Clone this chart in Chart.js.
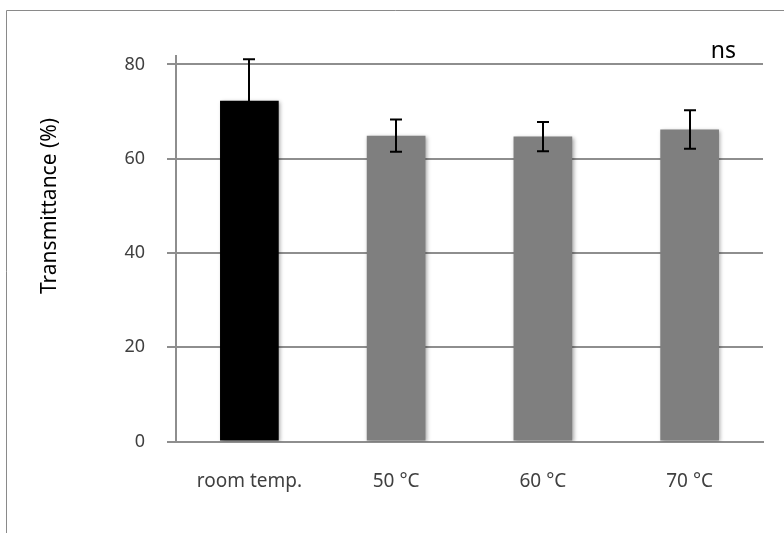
<!DOCTYPE html>
<html>
<head>
<meta charset="utf-8">
<title>Transmittance</title>
<script src="https://cdn.jsdelivr.net/npm/chart.js@4/dist/chart.umd.min.js"></script>
<style>
    html, body { margin: 0; padding: 0; background: #fff; }
    #wrap { position: relative; width: 784px; height: 533px; }
</style>
</head>
<body>
<div id="wrap"><canvas id="chart" width="784" height="533"></canvas></div>
<script>
// ============================================
// Data
// ============================================

const categories = ['room temp.', '50 °C', '60 °C', '70 °C'];
const transmittance = [72.3, 64.9, 64.7, 66.2];
const errors = [8.8, 3.4, 3.1, 4.1];
const barColors = ['#000000', '#7f7f7f', '#7f7f7f', '#7f7f7f'];
const yTicks = [0, 20, 40, 60, 80];
const yTitle = 'Transmittance (%)';
const noteText = 'ns';

const FONT = '"Noto Sans", "Open Sans", sans-serif';

// ============================================
// Plugins
// ============================================

// outer frame (left + top edge of the figure box)
const framePlugin = {
    id: 'frame',
    beforeDraw(chart) {
        const ctx = chart.ctx;
        ctx.save();
        ctx.strokeStyle = '#8a8a8a';
        ctx.lineWidth = 1;
        ctx.beginPath();
        ctx.moveTo(6.5, chart.height);
        ctx.lineTo(6.5, 10.5);
        ctx.lineTo(chart.width, 10.5);
        ctx.stroke();
        ctx.restore();
    }
};

// soft shadow under the bars
const shadowPlugin = {
    id: 'barShadow',
    beforeDatasetsDraw(chart) {
        const ctx = chart.ctx;
        ctx.save();
        ctx.shadowColor = 'rgba(0, 0, 0, 0.35)';
        ctx.shadowBlur = 4;
        ctx.shadowOffsetX = 1.5;
        ctx.shadowOffsetY = 1.5;
    },
    afterDatasetsDraw(chart) {
        chart.ctx.restore();
    }
};

// error bars, axis title and "ns" note
const errorBarPlugin = {
    id: 'errorBars',
    afterDatasetsDraw(chart) {
        const ctx = chart.ctx;
        const yScale = chart.scales.y;
        const meta = chart.getDatasetMeta(0);

        ctx.save();
        ctx.strokeStyle = '#000';
        ctx.lineWidth = 2;
        meta.data.forEach((bar, i) => {
            const v = transmittance[i];
            const e = errors[i];
            const yTop = yScale.getPixelForValue(v + e);
            const yBot = yScale.getPixelForValue(v - e);
            const x = Math.round(bar.x);
            const cap = 6;

            ctx.beginPath();
            ctx.moveTo(x, yBot);
            ctx.lineTo(x, yTop);
            ctx.moveTo(x - cap, yTop);
            ctx.lineTo(x + cap, yTop);
            ctx.moveTo(x - cap, yBot);
            ctx.lineTo(x + cap, yBot);
            ctx.stroke();
        });

        ctx.fillStyle = '#000';
        ctx.font = '23px ' + FONT;
        ctx.textAlign = 'right';
        ctx.textBaseline = 'middle';
        ctx.fillText(noteText, 736, 51);

        // rotated y title, sits a bit above the plot centre like the original
        ctx.translate(50, 206);
        ctx.rotate(-Math.PI / 2);
        ctx.font = '21px ' + FONT;
        ctx.textAlign = 'center';
        ctx.fillText(yTitle, 0, 0);
        ctx.restore();
    }
};

// ============================================
// Chart
// ============================================

const ctx = document.getElementById('chart').getContext('2d');

const chart = new Chart(ctx, {
    type: 'bar',
    data: {
        labels: categories,
        datasets: [{
            data: transmittance,
            backgroundColor: barColors,
            borderWidth: 0,
            barPercentage: 0.4,
            categoryPercentage: 1.0
        }]
    },
    options: {
        responsive: false,
        animation: false,
        layout: {
            padding: { top: 56, right: 21, bottom: 0, left: 0 }
        },
        plugins: {
            legend: { display: false },
            tooltip: { enabled: false }
        },
        scales: {
            x: {
                grid: { display: false, drawTicks: false },
                border: { display: true, color: '#8e8e8e', width: 2 },
                ticks: {
                    color: '#404040',
                    font: { family: FONT, size: 19 },
                    padding: 29,
                    maxRotation: 0
                },
                afterFit(scale) {
                    scale.height = 91.5;
                }
            },
            y: {
                min: 0,
                max: 81.8,
                afterBuildTicks(scale) {
                    scale.ticks = yTicks.map(v => ({ value: v }));
                },
                grid: {
                    color: '#8e8e8e',
                    lineWidth: 2,
                    drawTicks: true,
                    tickLength: 9
                },
                border: { display: true, color: '#8e8e8e', width: 2 },
                ticks: {
                    color: '#404040',
                    font: { family: FONT, size: 18 },
                    padding: 22
                },
                afterFit(scale) {
                    scale.width = 176;
                }
            }
        }
    },
    plugins: [framePlugin, shadowPlugin, errorBarPlugin]
});
</script>
</body>
</html>
